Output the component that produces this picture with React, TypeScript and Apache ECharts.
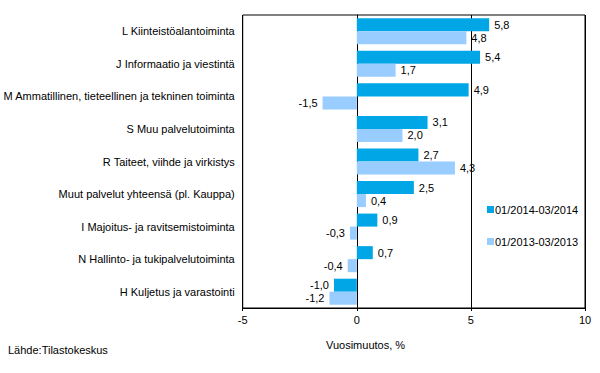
import React, { useEffect, useRef } from "react";
import * as echarts from "echarts";

const categories = [
  "L Kiinteistöalantoiminta",
  "J Informaatio ja viestintä",
  "M Ammatillinen, tieteellinen ja tekninen toiminta",
  "S Muu palvelutoiminta",
  "R Taiteet, viihde ja virkistys",
  "Muut palvelut yhteensä (pl. Kauppa)",
  "I Majoitus- ja ravitsemistoiminta",
  "N Hallinto- ja tukipalvelutoiminta",
  "H Kuljetus ja varastointi",
];
const series2014 = [5.8, 5.4, 4.9, 3.1, 2.7, 2.5, 0.9, 0.7, -1.0];
const series2013 = [4.8, 1.7, -1.5, 2.0, 4.3, 0.4, -0.3, -0.4, -1.2];
const seriesNames = ["01/2014-03/2014", "01/2013-03/2013"];
const colors = ["#00a6e6", "#99ccff"];
const xMin = -5;
const xMax = 10;
const xInterval = 5;

const FONT = "Liberation Sans, Arial, sans-serif";

function fmt(v: number) {
  return v.toFixed(1).replace(".", ",");
}

function toData(arr: number[]) {
  return arr.map((v) => ({
    value: v,
    label: { position: v < 0 ? "left" : "right" },
  }));
}

export default function App() {
  const ref = useRef<HTMLDivElement>(null);
  useEffect(() => {
    if (!ref.current) return;
    const chart = echarts.init(ref.current, undefined, { renderer: "svg" });
    const labelCommon = {
      show: true,
      distance: 5,
      color: "#000",
      fontSize: 11,
      fontFamily: FONT,
      formatter: (p: any) => fmt(p.value),
    };
    chart.setOption({
      animation: false,
      textStyle: { fontFamily: FONT },
      grid: {
        left: 240,
        right: 15,
        top: 15,
        bottom: 65,
        show: true,
        borderColor: "#000",
        borderWidth: 1,
        containLabel: false,
      },
      legend: {
        orient: "vertical",
        left: 482,
        top: 199,
        itemWidth: 7,
        itemHeight: 7,
        itemGap: 21,
        icon: "rect",
        textStyle: { fontSize: 11, fontFamily: FONT, color: "#000", padding: [0, 0, 0, -4] },
        data: seriesNames,
      },
      xAxis: {
        type: "value",
        min: xMin,
        max: xMax,
        interval: xInterval,
        axisLine: { show: true, lineStyle: { color: "#000" } },
        axisTick: { show: true, length: 3, lineStyle: { color: "#000" } },
        axisLabel: { fontSize: 11, color: "#000", fontFamily: FONT, margin: 6 },
        splitLine: { show: true, lineStyle: { color: "#000", width: 1 } },
      },
      yAxis: {
        type: "category",
        data: categories,
        inverse: true,
        axisLine: { show: true, onZero: true, lineStyle: { color: "#000" } },
        axisTick: { show: false },
        axisLabel: {
          fontSize: 11,
          color: "#000",
          fontFamily: FONT,
          margin: 8,
        },
      },
      series: [
        {
          name: seriesNames[0],
          type: "bar",
          data: toData(series2014),
          itemStyle: { color: colors[0] },
          barGap: "0%",
          barCategoryGap: "20%",
          label: labelCommon,
        },
        {
          name: seriesNames[1],
          type: "bar",
          data: toData(series2013),
          itemStyle: { color: colors[1] },
          barGap: "0%",
          barCategoryGap: "20%",
          label: labelCommon,
        },
      ],
      graphic: [
        {
          type: "text",
          left: 326,
          top: 339,
          style: { text: "Vuosimuutos, %", fontSize: 11, fontFamily: FONT, fill: "#000" },
        },
        {
          type: "text",
          left: 8,
          top: 344,
          style: { text: "Lähde:Tilastokeskus", fontSize: 11, fontFamily: FONT, fill: "#000" },
        },
      ],
    });
    return () => chart.dispose();
  }, []);
  return <div ref={ref} style={{ width: 600, height: 373, position: "absolute", left: 0, top: 0 }} />;
}
